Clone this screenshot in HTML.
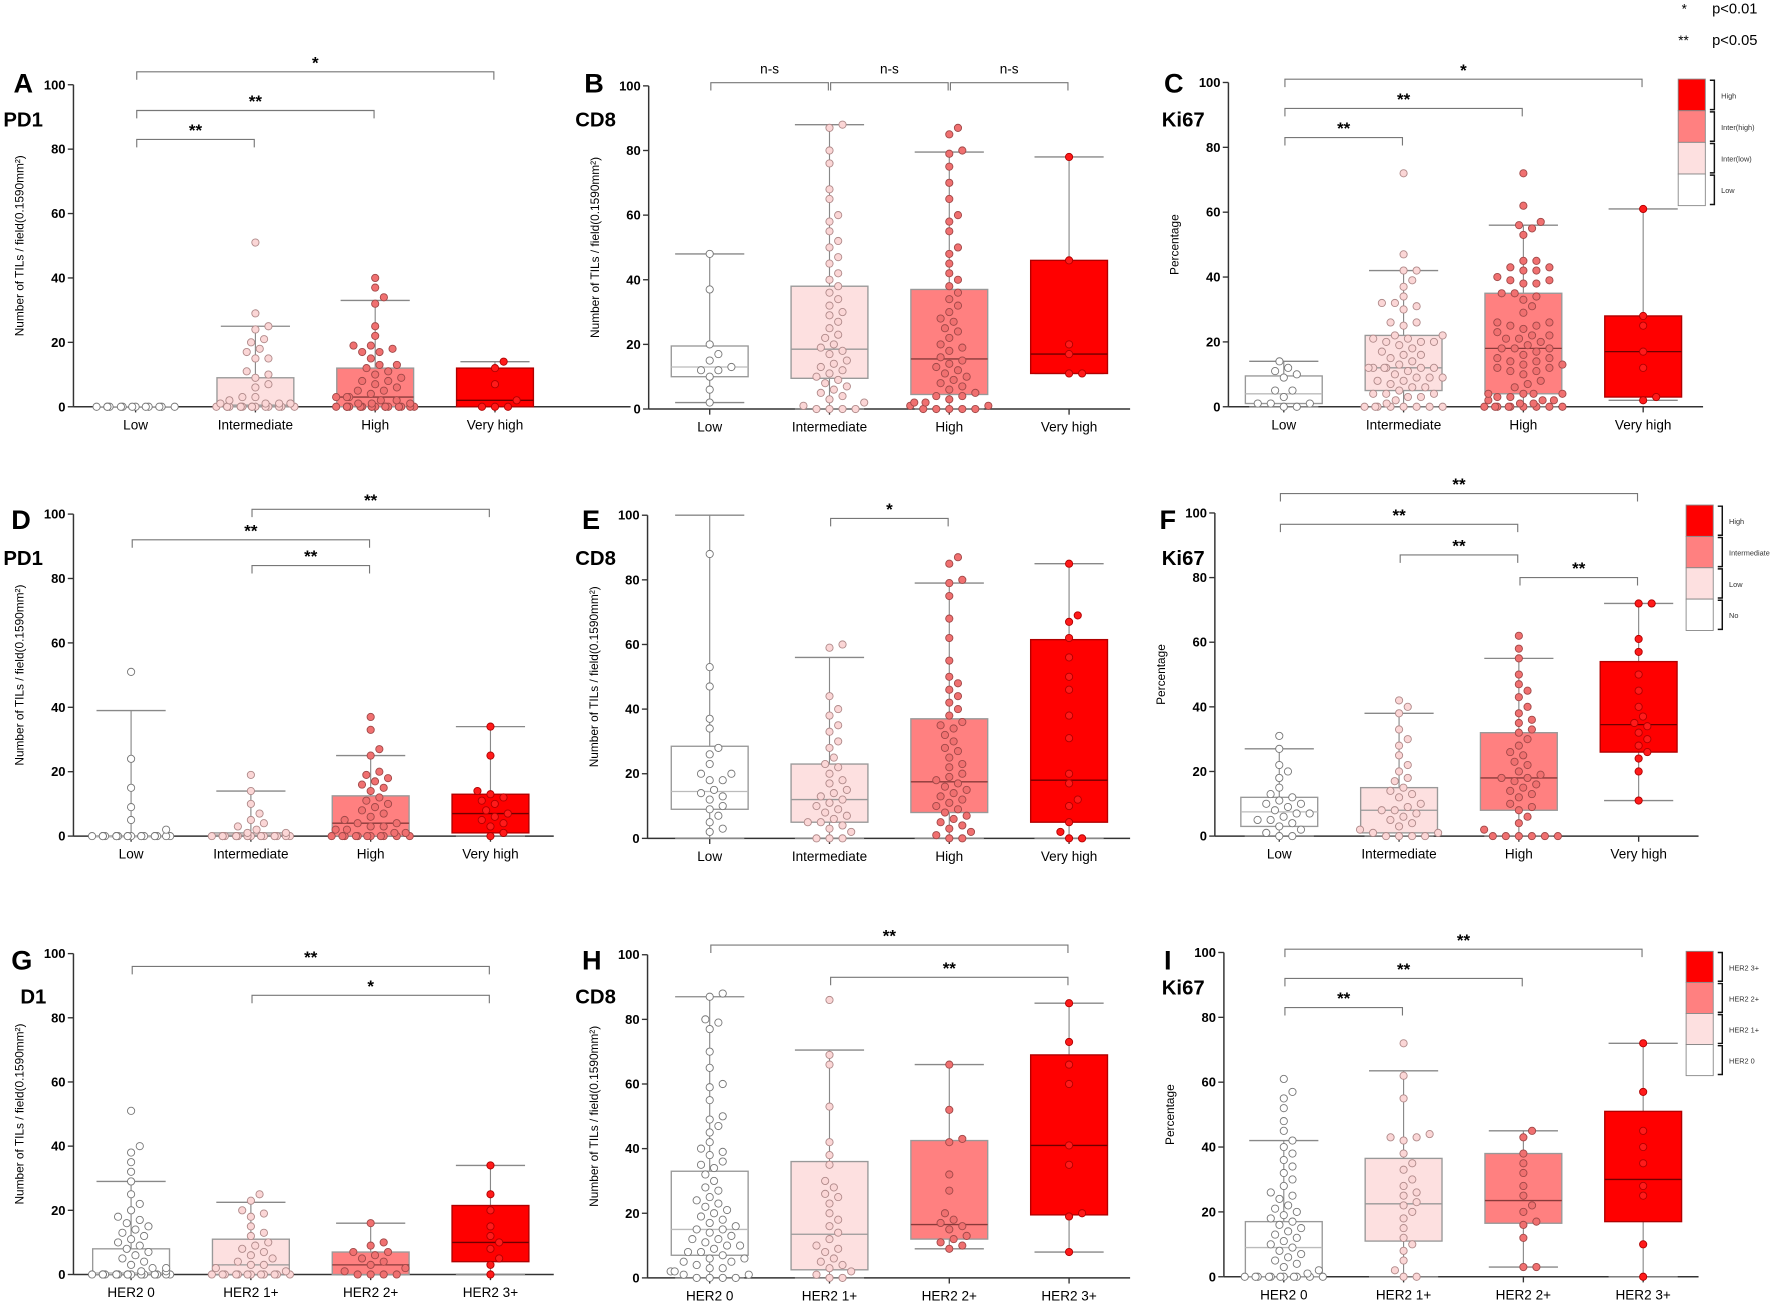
<!DOCTYPE html>
<html><head><meta charset="utf-8"><style>
html,body{margin:0;padding:0;background:#fff;}
svg{display:block;font-family:"Liberation Sans",Arial,sans-serif;}
</style></head><body>
<svg id="fig" width="1772" height="1305" viewBox="0 0 1568 1155" preserveAspectRatio="none" xmlns="http://www.w3.org/2000/svg">
<g>
<text x="1488" y="12" font-size="12">*</text><text x="1515" y="12" font-size="13">p&lt;0.01</text>
<text x="1485" y="40" font-size="12">**</text><text x="1515" y="40" font-size="13">p&lt;0.05</text>
</g>
</svg>
<script>
const gradeCats = ["Low","Intermediate","High","Very high"];
const herCats = ["HER2 0","HER2 1+","HER2 2+","HER2 3+"];
// box stats: [q1, median, q3, whiskerLow, whiskerHigh]
const A_boxes=[[0,0,0,0,0],[0,0.5,9,0,25],[0,3,12,0,33],[0,2,12,0,14]];
const A_pts=[[0,0,0,0,0,0,0,0,0,0,0,0,0],
[51,29,25,24,21,20,18,17,15,15,11,10,9,7,6,3,3,2,1,1,1,1,1,0,0,0,0,0,0,0,0,0,0,0,0,0,0,0],
[40,37,34,32,25,22,19,19,18,17,17,15,13,13,12,11,10,9,8,8,7,6,5,5,4,3,3,3,2,2,1,1,1,0,0,0,0,0,0,0,0,0,0,0,0,0,0,0,0,0,0,0],
[14,12,7,2,0,0,0]];
const B_boxes=[[10,13,19.5,2,48],[9.5,18.5,38,0,88],[4.5,15.5,37,0,79.5],[11,17,46,11,78]];
const B_pts=[[48,37,20,17,15,13,12,12,10,6,2],
[88,87,80,76,68,65,60,58,55,52,50,47,45,42,40,38,36,34,32,30,29,27,25,23,22,20,19,18,17,15,14,13,12,11,10,9,8,7,6,5,4,3,2,1,0,0,0,0],
[87,85,80,79,75,70,65,60,58,55,50,48,45,42,40,38,36,34,32,30,28,27,25,24,22,20,19,18,16,15,14,13,12,11,10,9,8,7,6,5,4,4,3,2,2,1,1,0,0,0,0,0],
[78,46,20,17,11,11]];
const C_boxes=[[1,4,9.5,0,14],[5,12,22,0,42],[4,18,35,0,56],[3,17,28,2,61]];
const C_pts=[[14,12,11,9,10,5,5,3,1,1,1,0,0],
[72,47,42,42,39,37,34,32,31,32,30,26,25,26,22,22,21,21,20,20,20,19,18,17,16,16,15,14,13,12,12,12,12,12,12,11,10,9,9,9,8,8,7,6,6,5,4,4,4,3,3,2,1,0,0,0,0,0,0,0,0],
[72,62,57,56,55,53,45,45,43,43,42,42,40,39,39,38,38,35,35,34,33,31,29,26,26,25,25,24,23,22,22,21,21,20,19,18,18,18,17,16,15,15,14,14,13,13,12,12,11,11,10,8,7,6,4,4,4,4,3,3,2,2,2,1,1,0,0,0,0,0,0,0,0,0],
[61,28,25,17,12,3,2]];
const D_boxes=[[0,0,0,0,39],[0,0.3,1,0,14],[0,4,12.5,0,25],[1,7,13,0,34]];
const D_pts=[[51,24,15,9,5,2,0,0,0,0,0,0,0,0,0,0,0,0,0,0,0,0,0,0,0,0],
[19,14,10,7,5,4,3,2,1,1,0,0,0,0,0,0,0,0,0,0,0,0,0,0,0,0,0,0,0,0],
[37,33,27,25,20,19,18,17,16,15,14,12,11,10,9,8,7,6,5,4,4,3,3,2,2,1,1,0,0,0,0,0,0,0,0,0,0,0],
[34,25,14,13,12,11,10,8,7,6,5,4,3,1,0]];
const E_boxes=[[9,14.5,28.5,0,100],[5,12,23,0,56],[8,17.5,37,0,79],[5,18,61.5,0,85]];
const E_pts=[[88,53,47,37,34,28,26,23,20,20,18,18,15,14,13,12,10,9,7,5,3,2],
[60,59,44,40,38,35,33,30,28,25,23,22,20,18,17,15,14,13,12,11,10,9,8,7,6,5,5,4,3,2,0,0,0],
[87,85,80,79,75,68,62,55,50,48,46,44,42,40,38,36,35,34,32,30,28,27,25,23,22,20,19,18,17,16,15,14,13,12,11,10,9,8,7,6,5,4,3,2,1,0,0],
[85,69,67,62,56,50,46,38,31,20,17,12,10,5,2,0,0]];
const F_boxes=[[3,7.5,12,0,27],[1,8,15,0,38],[8,18,32,0,55],[26,34.5,54,11,72]];
const F_pts=[[31,27,22,20,18,15,13,12,11,10,10,9,8,7,7,6,5,5,4,3,2,1,0,0],
[42,40,38,33,30,28,25,22,20,18,17,15,14,13,12,10,9,8,8,7,6,5,4,3,2,1,1,0,0,0,0],
[62,58,55,50,47,45,43,40,38,36,35,33,32,30,28,26,25,23,22,20,19,18,18,17,16,15,14,13,12,10,9,8,6,4,2,0,0,0,0,0,0],
[72,72,61,57,50,45,40,37,35,34,32,30,28,26,24,20,11]];
const G_boxes=[[0,0.5,8,0,29],[0,3,11,0,22.5],[0,3,7,0,16],[4,10,21.5,0,34]];
const G_pts=[[51,40,38,35,32,29,25,22,20,18,17,16,15,14,13,12,11,10,9,8,7,6,5,4,3,2,2,1,1,0,0,0,0,0,0,0,0,0,0,0,0,0,0,0,0,0,0,0,0,0],
[25,23,20,19,18,15,13,12,10,9,8,7,6,5,4,3,3,2,1,0,0,0,0,0,0,0,0,0,0,0,0],
[16,10,9,7,7,6,5,4,3,2,1,0,0,0,0],
[34,25,20,15,12,10,8,5,3,0]];
const H_boxes=[[7,15,33,0,87],[2.5,13.5,36,0,70.5],[12,16.5,42.5,9,66],[19.5,41,69,8,85]];
const H_pts=[[88,87,80,79,77,70,65,60,59,55,50,49,47,45,42,40,39,38,36,35,34,32,30,28,27,25,24,23,22,21,20,19,18,17,16,15,15,14,13,12,12,11,10,10,9,8,8,7,6,6,5,5,4,3,3,2,2,1,1,0,0,0,0],
[86,69,66,53,42,38,35,30,28,26,25,23,20,18,16,14,12,10,9,8,6,5,4,3,2,1,0,0],
[66,52,43,42,32,27,20,18,17,16,15,13,12,11,10,9],
[85,73,66,60,41,35,20,19,8]];
const I_boxes=[[0,9,17,0,42],[11,22.5,36.5,0,63.5],[16.5,23.5,38,3,45],[17,30,51,0,72]];
const I_pts=[[61,57,55,52,48,45,42,40,38,36,34,32,30,28,26,25,24,22,21,20,19,18,17,16,15,14,13,12,11,10,9,8,7,6,5,4,3,2,1,0,0,0,0,0,0,0,0,0,0,0],
[72,62,55,44,43,43,42,38,35,33,30,28,26,25,23,22,20,18,15,12,10,8,5,2,0,0],
[45,43,38,35,32,28,25,22,20,17,16,12,3,3],
[72,57,45,40,35,28,25,10,0]];
// brackets: [fromIdx, toIdx, yValue, label]
const A_br=[[0,1,83,"**"],[0,2,92,"**"],[0,3,104,"*"]];
const B_br=[[0,1,101,"n-s"],[1,2,101,"n-s"],[2,3,101,"n-s"]];
const C_br=[[0,1,83,"**"],[0,2,92,"**"],[0,3,101,"*"]];
const D_br=[[0,2,92,"**"],[1,2,84,"**"],[1,3,101.5,"**"]];
const E_br=[[1,2,99,"*"]];
const F_br=[[0,3,106,"**"],[0,2,96.5,"**"],[1,2,87,"**"],[2,3,80,"**"]];
const G_br=[[0,3,96,"**"],[1,3,87,"*"]];
const H_br=[[0,3,103,"**"],[1,3,93,"**"]];
const I_br=[[0,3,101,"**"],[0,2,92,"**"],[0,1,83,"**"]];

const NS="http://www.w3.org/2000/svg";
const svg=document.getElementById('fig');
function mk(tag,attrs,parent){const e=document.createElementNS(NS,tag);for(const k in attrs)e.setAttribute(k,attrs[k]);(parent||svg).appendChild(e);return e;}
const boxFill=["#ffffff","#fde0e0","#ff8080","#ff0000"];
const boxStroke=["#999","#999","#999","#b00000"];
const medStroke=["#bbb","#999","#8a3a3a","#700000"];
const dotFill=["#ffffff","#fbd6d6","#f07070","#ff1a1a"];
const dotStroke=["#777","#b08a8a","#a04848","#b00000"];
const ytitleTIL="Number of TILs / field(0.1590mm²)";
const panels=[
 {id:"a",letter:"A",marker:"PD1",ax:65,y0:360,y100:75,xEnd:558,c0:120,cats:gradeCats,boxes:A_boxes,pts:A_pts,br:A_br,yt:ytitleTIL,lx:12,ly:82,mx:3,my:112},
 {id:"b",letter:"B",marker:"CD8",ax:574,y0:362,y100:76,xEnd:1000,c0:628,cats:gradeCats,boxes:B_boxes,pts:B_pts,br:B_br,yt:ytitleTIL,lx:517,ly:82,mx:509,my:112},
 {id:"c",letter:"C",marker:"Ki67",ax:1087,y0:360,y100:73,xEnd:1507,c0:1136,cats:gradeCats,boxes:C_boxes,pts:C_pts,br:C_br,yt:"Percentage",lx:1030,ly:82,mx:1028,my:112},
 {id:"d",letter:"D",marker:"PD1",ax:65,y0:740,y100:455,xEnd:490,c0:116,cats:gradeCats,boxes:D_boxes,pts:D_pts,br:D_br,yt:ytitleTIL,lx:10,ly:468,mx:3,my:500},
 {id:"e",letter:"E",marker:"CD8",ax:573,y0:742,y100:456,xEnd:1000,c0:628,cats:gradeCats,boxes:E_boxes,pts:E_pts,br:E_br,yt:ytitleTIL,lx:515,ly:468,mx:509,my:500},
 {id:"f",letter:"F",marker:"Ki67",ax:1075,y0:740,y100:454,xEnd:1503,c0:1132,cats:gradeCats,boxes:F_boxes,pts:F_pts,br:F_br,yt:"Percentage",lx:1026,ly:468,mx:1028,my:500},
 {id:"g",letter:"G",marker:"D1",ax:65,y0:1128,y100:844,xEnd:490,c0:116,cats:herCats,boxes:G_boxes,pts:G_pts,br:G_br,yt:ytitleTIL,lx:10,ly:858,mx:18,my:888},
 {id:"h",letter:"H",marker:"CD8",ax:573,y0:1131,y100:845,xEnd:1000,c0:628,cats:herCats,boxes:H_boxes,pts:H_pts,br:H_br,yt:ytitleTIL,lx:515,ly:858,mx:509,my:888},
 {id:"i",letter:"I",marker:"Ki67",ax:1083,y0:1130,y100:843,xEnd:1503,c0:1136,cats:herCats,boxes:I_boxes,pts:I_pts,br:I_br,yt:"Percentage",lx:1030,ly:858,mx:1028,my:880}
];
const ticks=[0,20,40,60,80,100];
panels.forEach(p=>{
 const g=mk('g',{});
 
 
 const yS=v=>p.y0-(p.y0-p.y100)*v/100;
 const xS=i=>p.c0+106*i;
 const bw=68;
 const L=mk('text',{x:p.lx,y:p.ly,'font-size':24,'font-weight':'bold'},g);L.textContent=p.letter;
 
 
 const M=mk('text',{x:p.mx,y:p.my,'font-size':18,'font-weight':'bold'},g);M.textContent=p.marker;
 
 
 const cy=(p.y0+p.y100)/2;
 const yt=mk('text',{x:0,y:0,'font-size':10.5,'text-anchor':'middle',transform:`translate(${p.ax-44},${cy}) rotate(-90)`},g);yt.textContent=p.yt;
 
 
 mk('line',{x1:p.ax,y1:p.y100,x2:p.ax,y2:p.y0,stroke:'#333','stroke-width':1.3},g);
 mk('line',{x1:p.ax,y1:p.y0,x2:p.xEnd,y2:p.y0,stroke:'#333','stroke-width':1.3},g);
 ticks.forEach(t=>{
  mk('line',{x1:p.ax-5,y1:yS(t),x2:p.ax,y2:yS(t),stroke:'#333','stroke-width':1.2},g);
  const tt=mk('text',{x:p.ax-7,y:yS(t)+4,'font-size':11.5,'font-weight':'bold','text-anchor':'end'},g);tt.textContent=t;
  
  
 });
 p.cats.forEach((c,i)=>{
  const x=xS(i);
  mk('line',{x1:x,y1:p.y0,x2:x,y2:p.y0+5,stroke:'#333','stroke-width':1.2},g);
  const ct=mk('text',{x:x,y:p.y0+20,'font-size':12,'text-anchor':'middle'},g);ct.textContent=c;
  
  
  const b=p.boxes[i];
  const bg=mk('g',{},g);
  
  
  mk('line',{x1:x,y1:yS(b[4]),x2:x,y2:yS(b[3]),stroke:'#888','stroke-width':1},bg);
  mk('line',{x1:x-bw*0.45,y1:yS(b[4]),x2:x+bw*0.45,y2:yS(b[4]),stroke:'#888','stroke-width':1.2},bg);
  mk('line',{x1:x-bw*0.45,y1:yS(b[3]),x2:x+bw*0.45,y2:yS(b[3]),stroke:'#888','stroke-width':1.2},bg);
  const h=Math.max(0.5,yS(b[0])-yS(b[2]));
  mk('rect',{x:x-bw/2,y:yS(b[2]),width:bw,height:h,fill:boxFill[i],stroke:boxStroke[i],'stroke-width':1.2},bg);
  mk('line',{x1:x-bw/2,y1:yS(b[1]),x2:x+bw/2,y2:yS(b[1]),stroke:medStroke[i],'stroke-width':1.2},bg);
  const r=3.2,D=r*2.6,placed=[];
  const vals=p.pts[i].slice().sort((a,b)=>a-b);
  vals.forEach(v=>{
   const y=yS(v);let k=0,dx=0,ok=false;
   while(k<40){
    dx=(k%2?1:-1)*Math.ceil(k/2)*r*1.2;
    if(Math.abs(dx)>bw/2+2)break;
    if(!placed.some(q=>(q[0]-(x+dx))**2+(q[1]-y)**2<D*D)){ok=true;break;}
    k++;
   }
   if(!ok){ // overlap allowed: pick position with fewest neighbours
    let best=0,bs=1e9;
    for(let t=-bw/2+3;t<=bw/2-3;t+=2){
     const s=placed.reduce((a,q)=>a+((q[0]-(x+t))**2+(q[1]-y)**2<D*D?1:0),0);
     if(s<bs){bs=s;best=t;}
    }
    dx=best;
   }
   placed.push([x+dx,y]);
   const d=mk('circle',{cx:x+dx,cy:y,r:r,fill:dotFill[i],stroke:dotStroke[i],'stroke-width':0.8},bg);
   
   
  });
 });
 p.br.forEach(b=>{
  const x1=xS(b[0]),x2=xS(b[1]),y=yS(b[2]);
  const bk=mk('path',{d:`M${x1+1},${y+7}V${y}H${x2-1}V${y+7}`,fill:'none',stroke:'#777','stroke-width':1},g);
  
  
  const s=mk('text',{x:(x1+x2)/2,y:b[3]==="n-s"?y-8:y-3,'font-size':b[3]==="n-s"?12:15,'text-anchor':'middle','font-weight':b[3]==="n-s"?'normal':'bold'},g);
  s.textContent=b[3];
  
  
 });
});
const legendDefs=[
 {x:1485,y:70,h:112,labels:["High","Inter(high)","Inter(low)","Low"]},
 {x:1492,y:447,h:111,labels:["High","Intermediate","Low","No"]},
 {x:1492,y:842,h:110,labels:["HER2 3+","HER2 2+","HER2 1+","HER2 0"]}];
const legFill=["#ff0000","#ff8080","#fde0e0","#ffffff"];
legendDefs.forEach(l=>{
 const g=mk('g',{});
 
 
 const sh=l.h/4;
 l.labels.forEach((lab,i)=>{
  const yy=l.y+i*sh;
  mk('rect',{x:l.x,y:yy,width:24,height:sh,fill:legFill[i],stroke:'#888','stroke-width':0.8},g);
  mk('path',{d:`M${l.x+28},${yy+1}h4v${sh-2}h-4`,fill:'none',stroke:'#111','stroke-width':1.3},g);
  const t=mk('text',{x:l.x+38,y:yy+sh/2+3,'font-size':6.5,fill:'#333'},g);t.textContent=lab;
  
  
 });
});
</script>
</body></html>
